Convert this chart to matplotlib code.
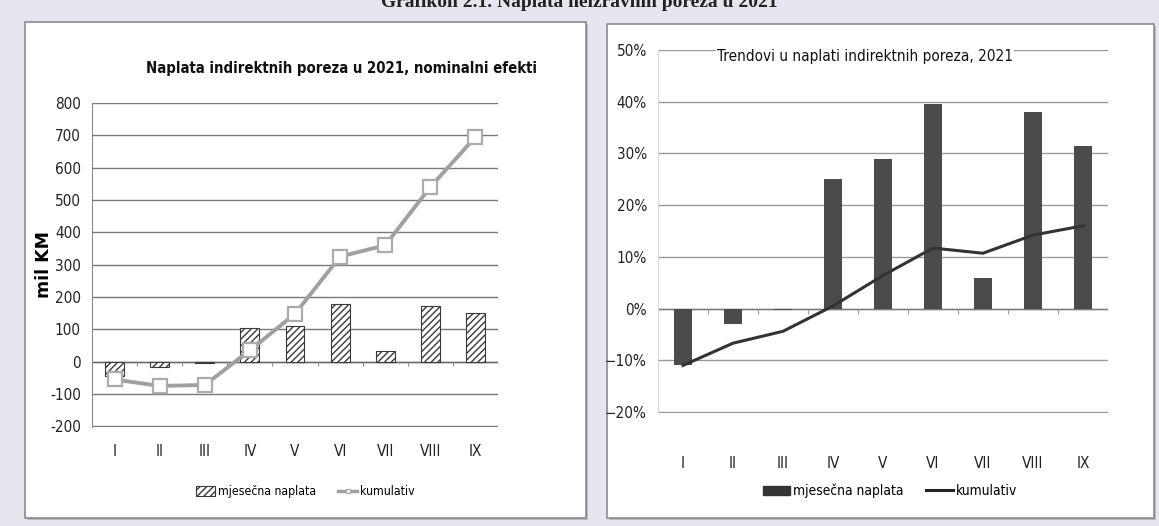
import numpy as np
import matplotlib
matplotlib.use("Agg")
import matplotlib.pyplot as plt
from matplotlib.patches import Rectangle, Patch
from matplotlib.lines import Line2D
from matplotlib.ticker import PercentFormatter

# ---- data ----
months = ["I", "II", "III", "IV", "V", "VI", "VII", "VIII", "IX"]
monthly_nominal = [-45, -15, -5, 105, 110, 178, 32, 173, 152]
cumulative_nominal = [-55, -75, -72, 35, 148, 325, 360, 540, 695]
monthly_pct = [-0.11, -0.03, -0.003, 0.25, 0.29, 0.395, 0.06, 0.38, 0.315]
cumulative_pct = [-0.11, -0.067, -0.044, 0.005, 0.064, 0.117, 0.107, 0.142, 0.16]
left_yticks = [-200, -100, 0, 100, 200, 300, 400, 500, 600, 700, 800]
right_yticks = [-0.2, -0.1, 0.0, 0.1, 0.2, 0.3, 0.4, 0.5]

suptitle = "Grafikon 2.1. Naplata neizravnih poreza u 2021"
left_title = "Naplata indirektnih poreza u 2021, nominalni efekti"
right_title = "Trendovi u naplati indirektnih poreza, 2021"
left_ylabel = "mil KM"
legend_bar = "mjesečna naplata"
legend_line = "kumulativ"

plt.rcParams["font.family"] = ["DejaVu Sans"]
plt.rcParams["font.stretch"] = "condensed"
plt.rcParams["hatch.linewidth"] = 1.0

W, H = 1159, 526
fig = plt.figure(figsize=(W / 100, H / 100), dpi=100)
fig.patch.set_facecolor("#e7e6ee")


def px_rect(x0, y0, x1, y1):
    return [x0 / W, 1 - y1 / H, (x1 - x0) / W, (y1 - y0) / H]


# panel boxes
for (x0, y0, x1, y1) in [(25, 22, 586, 518), (607, 24, 1154, 518)]:
    fig.patches.append(Rectangle((x0 / W + 0.002, 1 - y1 / H - 0.004), (x1 - x0) / W, (y1 - y0) / H,
                                 transform=fig.transFigure, facecolor="#b9b9c0", edgecolor="none",
                                 zorder=-3))
    fig.patches.append(Rectangle((x0 / W, 1 - y1 / H), (x1 - x0) / W, (y1 - y0) / H,
                                 transform=fig.transFigure, facecolor="white", edgecolor="#8a8a90",
                                 linewidth=1.2, zorder=-2))

fig.text(0.5, 1 - 7 / H, suptitle, ha="center", va="baseline", fontsize=14, fontweight="bold",
         family=["Liberation Serif", "DejaVu Serif"], fontstretch="normal", color="#222222")

x = np.arange(len(months))

# ---- left chart ----
axL = fig.add_axes(px_rect(92, 103, 498, 427))
axL.set_facecolor("none")
axL.bar(x, monthly_nominal, width=0.42, facecolor="white", edgecolor="#3a3a3a", hatch="/////",
        linewidth=0.8, zorder=3)
axL.plot(x, cumulative_nominal, color="#a0a0a0", linewidth=2.8, marker="s", markersize=10,
         markerfacecolor="white", markeredgecolor="#acacac", markeredgewidth=1.6, zorder=4)
axL.set_xlim(-0.5, len(months) - 0.5)
axL.set_ylim(-202, 800)
axL.set_yticks(left_yticks)
axL.set_yticklabels([str(v) for v in left_yticks])
axL.grid(axis="y", color="#7a7a7a", linewidth=1.0, zorder=0)
axL.set_axisbelow(True)
for s in ["top", "right", "bottom"]:
    axL.spines[s].set_visible(False)
axL.spines["left"].set_color("#8a8a8a")
axL.axhline(0, color="#6a6a6a", linewidth=1.0, zorder=2)
axL.vlines(np.arange(-0.5, len(months)), -12, 0, color="#8a8a8a", linewidth=0.8, zorder=2)
axL.set_xticks(x)
axL.set_xticklabels(months)
axL.tick_params(axis="x", length=0, pad=12, labelsize=11, colors="#222222")
axL.tick_params(axis="y", length=0, pad=8, labelsize=11, colors="#222222")
axL.set_ylabel(left_ylabel, fontsize=12.5, fontweight="bold", fontstretch="normal")
axL.yaxis.set_label_coords(-0.096, 0.5)
fig.text(341 / W, 1 - 68 / H, left_title, ha="center", va="center", fontsize=10.7, fontweight="bold",
         color="#111111")
hL = [Patch(facecolor="white", edgecolor="#3a3a3a", hatch="/////", linewidth=0.8),
      Line2D([], [], color="#a0a0a0", linewidth=2.5, marker="s", markersize=3.5,
             markerfacecolor="white", markeredgecolor="#acacac")]
axL.legend(hL, [legend_bar, legend_line], loc="center", bbox_to_anchor=((305 - 92) / 406, -0.2),
           ncol=2, frameon=False, fontsize=8.8, handlelength=1.6, handleheight=0.9,
           handletextpad=0.2, columnspacing=1.8)

# ---- right chart ----
axR = fig.add_axes(px_rect(658, 50, 1108, 413))
axR.set_facecolor("none")
axR.bar(x, monthly_pct, width=0.37, color="#4b4b4d", zorder=3)
axR.plot(x, cumulative_pct, color="#333333", linewidth=2.2, zorder=4)
axR.set_xlim(-0.5, len(months) - 0.5)
axR.set_ylim(-0.202, 0.5)
axR.set_yticks(right_yticks)
axR.yaxis.set_major_formatter(PercentFormatter(1.0, decimals=0))
axR.grid(axis="y", color="#9a9a9a", linewidth=1.0, zorder=0)
axR.set_axisbelow(True)
for s in ["top", "right", "bottom"]:
    axR.spines[s].set_visible(False)
axR.spines["left"].set_color("#d8d8d8")
axR.axhline(0, color="#7a7a7a", linewidth=1.0, zorder=2)
axR.vlines(np.arange(-0.5, len(months)), -0.01, 0, color="#9a9a9a", linewidth=0.8, zorder=2)
axR.set_xticks(x)
axR.set_xticklabels(months)
axR.tick_params(axis="x", length=0, pad=31, labelsize=11, colors="#222222")
axR.tick_params(axis="y", length=0, pad=8, labelsize=11, colors="#222222")
fig.text(865 / W, 1 - 56 / H, right_title, ha="center", va="center", fontsize=11, color="#111111",
         bbox=dict(facecolor="white", edgecolor="none", pad=1))
hR = [Patch(facecolor="#333333", edgecolor="#333333"),
      Line2D([], [], color="#222222", linewidth=2.2)]
axR.legend(hR, [legend_bar, legend_line], loc="center", bbox_to_anchor=((890 - 658) / 450, -0.215),
           ncol=2, frameon=False, fontsize=9.9, handlelength=2.0, handletextpad=0.2,
           columnspacing=1.6)

fig.savefig("out.png", dpi=100, facecolor=fig.get_facecolor())
